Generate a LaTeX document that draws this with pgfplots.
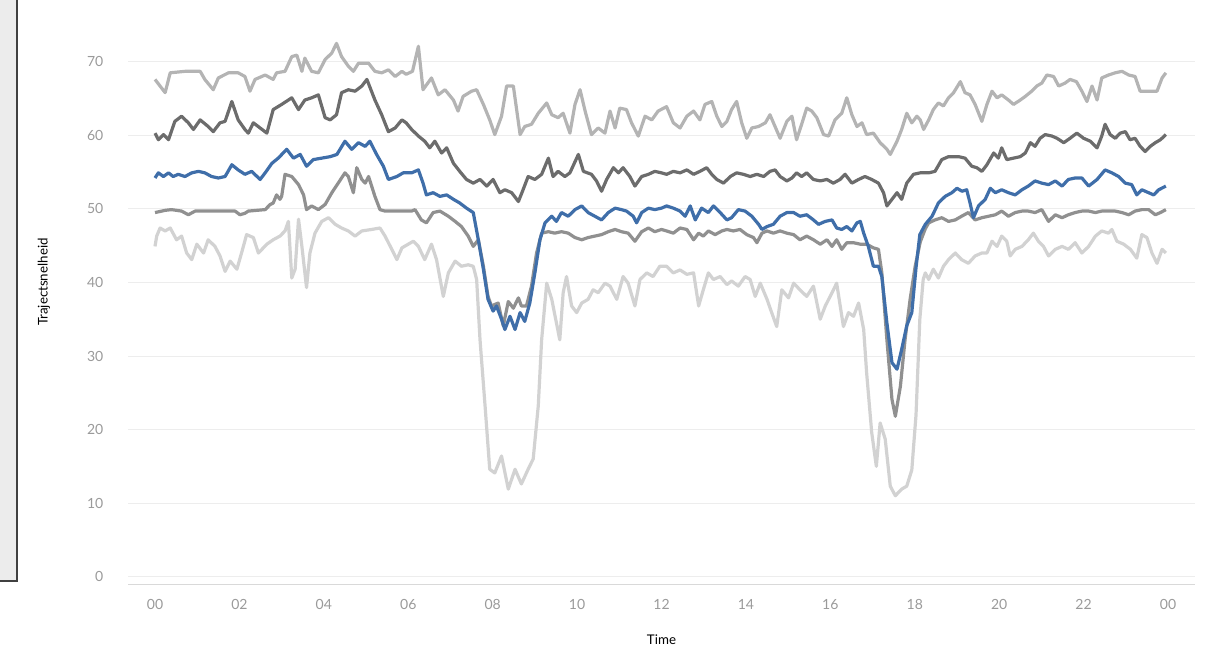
\documentclass[border=0pt]{standalone}
\usepackage{fontspec}
\setmainfont{Lato}
\usepackage{pgfplots}
\usepackage{pgfplotstable}
\pgfplotsset{compat=1.18}
\definecolor{topgray}{HTML}{B4B4B4}
\definecolor{darkg}{HTML}{6C6C6C}
\definecolor{tblue}{HTML}{3F6EA9}
\definecolor{midg}{HTML}{909090}
\definecolor{lowg}{HTML}{D2D2D2}
\definecolor{gridc}{HTML}{EDEDED}
\definecolor{tickc}{HTML}{9A9A9A}
\definecolor{labc}{HTML}{555555}

\pgfplotstableread{
x y
0 67.6
0.24 65.8
0.36 68.5
0.71 68.7
1.07 68.7
1.18 67.6
1.38 66.2
1.5 67.8
1.74 68.5
1.97 68.5
2.13 68.0
2.25 66.0
2.37 67.6
2.61 68.2
2.8 67.6
2.88 68.5
3.08 68.7
3.24 70.7
3.36 70.9
3.48 68.7
3.55 70.5
3.71 68.7
3.87 68.5
4.03 70.3
4.19 71.2
4.3 72.5
4.42 70.7
4.58 69.4
4.7 68.7
4.82 69.8
5.06 69.8
5.21 68.7
5.37 68.5
5.53 68.9
5.69 68.0
5.85 68.7
5.95 68.3
6.1 68.7
6.24 72.1
6.35 66.2
6.55 67.8
6.71 65.5
6.87 66.2
7.07 64.8
7.18 63.3
7.3 65.3
7.5 66.0
7.62 66.2
7.78 64.2
7.93 62.1
8.05 60.1
8.21 62.6
8.33 66.7
8.49 66.7
8.65 60.1
8.76 61.2
8.92 61.5
9.08 63.0
9.28 64.4
9.4 62.8
9.55 62.4
9.67 63.0
9.83 60.3
9.95 64.2
10.07 66.2
10.19 63.3
10.34 60.1
10.5 61.0
10.66 60.3
10.78 63.3
10.9 61.0
11.01 63.7
11.17 63.5
11.29 61.7
11.45 59.9
11.61 62.6
11.77 62.1
11.92 63.3
12.12 63.9
12.28 61.7
12.44 61.0
12.6 62.6
12.76 63.3
12.91 62.1
13.03 64.2
13.19 64.6
13.31 62.6
13.43 61.2
13.55 61.9
13.66 63.5
13.78 64.6
13.9 61.7
14.02 59.6
14.14 61.0
14.3 61.2
14.46 61.7
14.57 62.8
14.69 61.2
14.81 59.6
14.97 61.9
15.09 62.6
15.2 59.4
15.32 61.5
15.44 63.7
15.56 63.3
15.68 62.4
15.84 60.1
15.96 59.9
16.11 62.1
16.27 63.0
16.39 65.1
16.51 62.8
16.63 61.2
16.75 61.7
16.86 60.1
17.02 60.3
17.18 59.0
17.34 58.1
17.42 57.4
17.58 59.2
17.69 60.8
17.81 63.0
17.93 61.7
18.05 62.6
18.13 62.1
18.21 60.8
18.33 62.1
18.44 63.5
18.56 64.4
18.68 64.0
18.8 65.1
18.92 65.8
19.08 67.3
19.19 65.8
19.31 65.5
19.43 64.2
19.59 61.9
19.71 64.2
19.83 66.0
19.95 65.1
20.06 65.5
20.22 64.8
20.34 64.2
20.5 64.8
20.62 65.3
20.77 66.0
20.89 66.7
21.01 67.1
21.13 68.2
21.29 68.0
21.41 66.7
21.56 67.1
21.68 67.6
21.83 67.3
21.96 66.0
22.08 64.6
22.2 66.7
22.32 64.8
22.43 67.8
22.59 68.2
22.75 68.5
22.91 68.7
23.07 68.2
23.22 68.0
23.34 66.0
23.54 66.0
23.74 66.0
23.86 67.8
23.95 68.5
}\topT

\pgfplotstableread{
x y
0 60.3
0.08 59.4
0.2 60.1
0.32 59.4
0.47 61.9
0.63 62.6
0.79 61.7
0.91 60.8
1.07 62.1
1.26 61.2
1.38 60.5
1.54 61.7
1.66 61.9
1.82 64.6
1.97 62.1
2.13 60.8
2.21 60.3
2.33 61.7
2.49 61.0
2.65 60.3
2.8 63.5
3.0 64.2
3.24 65.1
3.4 63.5
3.55 64.8
3.71 65.1
3.87 65.5
4.03 62.4
4.15 62.1
4.3 62.8
4.42 65.8
4.58 66.2
4.74 66.0
4.9 66.7
5.02 67.6
5.21 64.8
5.37 62.8
5.53 60.5
5.69 61.0
5.85 62.1
5.95 61.7
6.08 60.8
6.24 59.9
6.39 59.2
6.51 58.3
6.63 59.2
6.79 57.6
6.91 58.3
7.07 56.2
7.22 55.1
7.38 54.0
7.54 53.5
7.7 54.0
7.86 53.1
8.01 54.0
8.17 52.2
8.29 52.6
8.45 52.2
8.61 51.0
8.72 52.6
8.84 54.4
9.0 54.0
9.16 54.7
9.32 56.9
9.43 54.4
9.55 55.1
9.71 54.4
9.83 54.9
10.03 57.4
10.15 55.1
10.34 54.7
10.46 53.8
10.58 52.4
10.7 54.0
10.86 55.6
10.98 54.9
11.09 55.6
11.25 54.4
11.37 53.1
11.53 54.4
11.69 54.7
11.84 55.1
12.0 54.9
12.12 54.7
12.28 55.1
12.44 54.9
12.6 55.3
12.76 54.7
12.91 55.1
13.07 55.6
13.19 54.7
13.31 54.0
13.47 53.5
13.63 54.4
13.78 54.9
13.94 54.7
14.1 54.4
14.26 54.7
14.42 54.4
14.57 55.1
14.69 55.3
14.81 54.4
14.97 53.8
15.09 54.2
15.2 54.9
15.32 54.4
15.44 54.9
15.6 54.0
15.76 53.8
15.92 54.0
16.07 53.5
16.23 54.0
16.35 54.7
16.51 53.5
16.67 54.0
16.82 54.4
16.98 54.0
17.14 53.5
17.26 52.2
17.34 50.4
17.46 51.3
17.58 52.2
17.69 51.3
17.81 53.5
17.97 54.7
18.13 54.9
18.33 54.9
18.48 55.1
18.64 56.7
18.8 57.1
19.04 57.1
19.19 56.9
19.35 55.8
19.47 55.6
19.59 55.1
19.71 56.0
19.87 57.6
19.98 56.9
20.06 58.3
20.18 56.7
20.34 56.9
20.5 57.1
20.62 57.6
20.74 59.0
20.85 58.5
20.97 59.6
21.09 60.1
21.25 59.9
21.37 59.6
21.53 59.0
21.68 59.6
21.84 60.3
22.0 59.6
22.16 59.2
22.32 58.3
22.43 59.9
22.51 61.5
22.63 60.1
22.75 59.6
22.87 60.3
22.99 60.5
23.1 59.4
23.22 59.6
23.34 58.5
23.46 57.8
23.58 58.5
23.7 59.0
23.82 59.4
23.95 60.1
}\darkT

\pgfplotstableread{
x y
0 54.2
0.08 54.9
0.2 54.4
0.32 54.9
0.43 54.4
0.55 54.7
0.71 54.4
0.87 54.9
1.03 55.1
1.18 54.9
1.34 54.4
1.5 54.2
1.66 54.4
1.82 56.0
1.97 55.3
2.13 54.7
2.29 55.1
2.49 54.0
2.61 54.9
2.77 56.2
2.92 56.9
3.12 58.1
3.28 56.9
3.44 57.4
3.59 55.8
3.75 56.7
3.95 56.9
4.15 57.1
4.31 57.4
4.5 59.2
4.66 58.1
4.82 59.0
4.98 58.5
5.09 59.2
5.25 57.4
5.41 55.8
5.53 54.0
5.73 54.4
5.88 54.9
6.08 54.9
6.24 55.3
6.35 53.5
6.43 51.9
6.59 52.2
6.75 51.7
6.91 51.9
7.07 51.3
7.22 50.8
7.38 50.1
7.54 49.5
7.66 45.8
7.78 41.8
7.89 37.7
8.01 36.1
8.09 36.8
8.21 35.0
8.29 33.6
8.41 35.4
8.53 33.6
8.65 35.9
8.76 34.7
8.88 37.2
9.0 41.3
9.12 45.8
9.24 48.1
9.4 49.0
9.51 48.3
9.63 49.5
9.79 49.0
9.95 49.9
10.11 50.4
10.26 49.5
10.42 49.0
10.58 48.5
10.74 49.5
10.9 50.1
11.05 49.9
11.17 49.7
11.33 49.0
11.41 48.1
11.53 49.5
11.69 50.1
11.84 49.9
12.0 50.1
12.12 50.4
12.28 50.1
12.44 49.7
12.56 49.0
12.68 50.4
12.8 48.5
12.95 50.1
13.11 49.5
13.23 50.4
13.39 49.5
13.55 48.5
13.66 48.8
13.82 49.9
13.98 49.7
14.14 49.0
14.3 47.9
14.38 47.2
14.5 47.6
14.65 47.9
14.81 49.0
14.97 49.5
15.13 49.5
15.28 49.0
15.44 49.2
15.6 48.5
15.72 47.9
15.88 48.3
16.04 48.5
16.15 47.4
16.27 47.2
16.39 47.6
16.51 47.0
16.63 48.1
16.71 48.3
16.79 46.7
16.9 44.9
17.02 42.2
17.14 42.2
17.22 40.8
17.34 34.5
17.46 29.1
17.58 28.2
17.69 30.9
17.81 34.1
17.93 35.9
18.03 42.0
18.12 46.5
18.25 47.9
18.41 49.0
18.56 50.8
18.72 51.7
18.88 52.2
19.0 52.8
19.12 52.4
19.23 52.6
19.31 50.8
19.39 48.8
19.51 50.4
19.67 51.3
19.79 52.8
19.91 52.2
20.06 52.6
20.22 52.2
20.38 51.9
20.54 52.6
20.69 53.1
20.85 53.8
21.01 53.5
21.17 53.3
21.33 53.8
21.49 53.1
21.64 54.0
21.8 54.2
21.96 54.2
22.12 53.1
22.32 54.0
22.51 55.3
22.67 54.9
22.83 54.4
22.99 53.5
23.14 53.3
23.26 51.9
23.38 52.6
23.54 52.2
23.66 51.9
23.78 52.6
23.95 53.1
}\blueT

\pgfplotstableread{
x y
0 49.5
0.24 49.8
0.39 49.9
0.63 49.7
0.79 49.2
0.95 49.7
1.34 49.7
1.9 49.7
2.01 49.2
2.13 49.4
2.21 49.7
2.61 49.9
2.73 50.6
2.8 50.8
2.88 51.9
2.96 51.3
3.0 51.7
3.08 54.7
3.24 54.4
3.4 53.3
3.52 51.9
3.59 49.9
3.71 50.4
3.87 49.9
4.03 50.6
4.19 52.2
4.34 53.5
4.5 54.9
4.58 54.4
4.7 52.2
4.78 55.6
4.9 54.0
4.98 53.5
5.06 54.4
5.21 51.7
5.33 49.9
5.45 49.7
6.08 49.7
6.16 49.9
6.31 48.5
6.43 48.1
6.59 49.5
6.75 49.7
6.95 49.0
7.11 48.3
7.26 47.6
7.42 46.3
7.54 44.9
7.66 45.8
7.78 42.2
7.89 38.1
7.97 36.8
8.13 37.2
8.25 34.1
8.37 37.4
8.49 36.5
8.61 37.9
8.68 36.8
8.8 36.8
8.92 39.5
9.04 44.0
9.16 46.7
9.32 46.9
9.47 46.7
9.63 46.9
9.79 46.7
9.95 46.1
10.11 45.8
10.26 46.1
10.42 46.3
10.58 46.5
10.74 46.9
10.9 47.2
11.05 46.9
11.21 46.7
11.37 45.6
11.53 46.9
11.69 47.4
11.84 46.9
12.0 47.2
12.12 47.0
12.28 46.7
12.44 47.4
12.6 47.2
12.76 45.8
12.88 46.7
12.99 46.3
13.11 47.0
13.27 46.5
13.43 47.0
13.55 47.2
13.7 47.0
13.86 47.2
14.02 46.5
14.18 46.1
14.26 45.4
14.38 46.7
14.5 47.0
14.65 46.7
14.81 47.0
14.97 46.7
15.13 46.5
15.28 45.8
15.44 46.3
15.6 45.8
15.76 45.2
15.92 45.8
16.04 44.9
16.15 45.8
16.27 44.5
16.39 45.4
16.55 45.4
16.71 45.2
16.86 45.2
17.02 44.7
17.14 44.5
17.22 41.3
17.34 32.2
17.46 24.1
17.54 21.8
17.66 25.9
17.77 32.2
17.89 37.7
18.01 42.2
18.13 45.5
18.25 47.3
18.33 48.1
18.48 48.5
18.64 48.8
18.8 48.3
18.96 48.5
19.11 49.0
19.27 49.5
19.43 48.5
19.59 48.8
19.75 49.0
19.91 49.2
20.06 49.7
20.22 49.0
20.38 49.5
20.54 49.7
20.69 49.7
20.85 49.5
21.01 49.9
21.17 48.3
21.33 49.2
21.49 48.8
21.64 49.2
21.8 49.5
21.96 49.7
22.12 49.7
22.28 49.5
22.43 49.7
22.59 49.7
22.75 49.7
22.91 49.5
23.07 49.2
23.22 49.7
23.38 49.9
23.54 49.9
23.7 49.2
23.82 49.5
23.95 49.9
}\midT

\pgfplotstableread{
x y
0 44.9
0.04 46.3
0.12 47.4
0.24 47.0
0.36 47.4
0.51 45.8
0.63 46.3
0.75 44.0
0.87 43.1
0.99 45.2
1.15 44.0
1.26 45.8
1.42 44.9
1.54 43.6
1.66 41.5
1.78 42.9
1.94 41.8
2.05 44.0
2.17 46.5
2.33 46.1
2.45 44.0
2.65 45.2
2.8 45.8
2.96 46.3
3.08 47.0
3.16 48.3
3.24 40.6
3.32 41.8
3.4 48.6
3.48 44.9
3.59 39.3
3.67 44.0
3.79 46.7
3.95 48.3
4.11 48.8
4.27 47.9
4.42 47.4
4.58 47.0
4.74 46.3
4.9 47.0
5.13 47.2
5.33 47.4
5.45 46.3
5.61 44.5
5.73 43.1
5.85 44.7
6.0 45.2
6.12 45.6
6.24 44.9
6.39 43.1
6.55 45.2
6.67 43.1
6.83 38.1
6.95 41.3
7.11 42.9
7.26 42.2
7.42 42.4
7.54 42.2
7.62 40.4
7.7 32.2
7.82 23.2
7.93 14.6
8.05 14.1
8.21 16.4
8.37 11.9
8.53 14.6
8.68 12.6
8.84 14.6
8.96 16.0
9.08 23.2
9.16 32.2
9.28 39.9
9.4 37.7
9.51 34.5
9.59 32.2
9.67 38.6
9.75 40.8
9.87 36.8
9.99 35.9
10.11 37.2
10.26 37.7
10.38 39.0
10.5 38.6
10.66 39.9
10.78 39.5
10.94 37.7
11.09 40.8
11.21 39.9
11.37 36.8
11.49 40.4
11.65 41.3
11.8 40.8
11.96 42.2
12.12 42.2
12.28 41.3
12.44 41.7
12.6 41.1
12.76 41.3
12.88 36.8
12.99 39.0
13.11 41.3
13.23 40.4
13.39 40.8
13.55 39.7
13.66 40.2
13.82 39.5
13.98 40.8
14.1 40.4
14.22 38.1
14.34 39.9
14.5 37.7
14.61 35.9
14.73 34.0
14.85 39.0
15.01 37.9
15.13 39.9
15.28 39.0
15.44 38.1
15.6 39.5
15.76 35.0
15.88 36.8
16.04 38.6
16.15 39.9
16.31 34.0
16.43 35.9
16.55 35.4
16.67 37.2
16.79 33.6
16.86 27.7
16.98 19.6
17.09 15.0
17.18 20.9
17.3 18.7
17.42 12.3
17.54 11.0
17.69 11.9
17.81 12.3
17.93 14.5
18.03 22.0
18.12 35.0
18.2 40.4
18.25 41.3
18.33 40.4
18.44 41.8
18.56 40.6
18.68 42.2
18.8 43.1
18.96 44.0
19.11 43.1
19.27 42.6
19.43 43.6
19.59 44.0
19.71 44.0
19.83 45.6
19.95 44.9
20.06 46.3
20.18 45.6
20.26 43.6
20.38 44.5
20.54 44.9
20.69 45.8
20.81 46.7
20.93 45.6
21.05 44.9
21.17 43.6
21.33 44.5
21.49 44.9
21.64 44.5
21.8 45.4
21.96 44.0
22.12 44.9
22.28 46.3
22.43 47.0
22.59 46.7
22.67 47.2
22.79 45.6
22.95 45.2
23.11 44.5
23.26 43.3
23.38 46.5
23.5 46.1
23.62 44.0
23.74 42.6
23.86 44.5
23.95 44.0
}\lowT

\begin{document}
\begin{tikzpicture}
\path[use as bounding box] (0,0) rectangle (914.25pt,489pt);
% neighbouring panel edge at the far left
\fill[gray!15] (0,53.25pt) rectangle (12.75pt,489pt);
\draw[black!75, line width=1.5pt] (12.75pt,489pt) -- (12.75pt,53.25pt) -- (0,53.25pt);
\begin{axis}[
  at={(96pt,51pt)}, anchor=south west,
  width=800.25pt, height=419.25pt, scale only axis,
  xmin=-0.64, xmax=24.64, ymin=-1, ymax=75,
  axis x line=bottom, axis y line=left,
  x axis line style={draw=black!15, -},
  y axis line style={draw=none},
  major tick length=0pt,
  xtick={0,2,...,24},
  xticklabels={00,02,04,06,08,10,12,14,16,18,20,22,00},
  ytick={0,10,...,70},
  ymajorgrids, grid style={gridc, line width=0.7pt},
  tick label style={font=\fontsize{10.5}{12}\selectfont, text=tickc},
  xticklabel style={yshift=-8pt},
  yticklabel style={xshift=-15pt},
  /pgf/number format/assume math mode=true,
  xlabel={Time}, ylabel={Trajectsnelheid},
  label style={font=\fontsize{11}{13}\selectfont, text=labc},
  every axis x label/.style={at={(axis description cs:0.5,-0.1)}, anchor=center},
  every axis y label/.style={at={(axis description cs:-0.0787,0.54)}, anchor=center, rotate=90},
  clip=false,
]
\addplot[lowg, line width=2.4pt, line join=round] table {\lowT};
\addplot[topgray, line width=2.4pt, line join=round] table {\topT};
\addplot[midg, line width=2.4pt, line join=round] table {\midT};
\addplot[darkg, line width=2.4pt, line join=round] table {\darkT};
\addplot[tblue, line width=2.4pt, line join=round] table {\blueT};
\end{axis}
\end{tikzpicture}
\end{document}
